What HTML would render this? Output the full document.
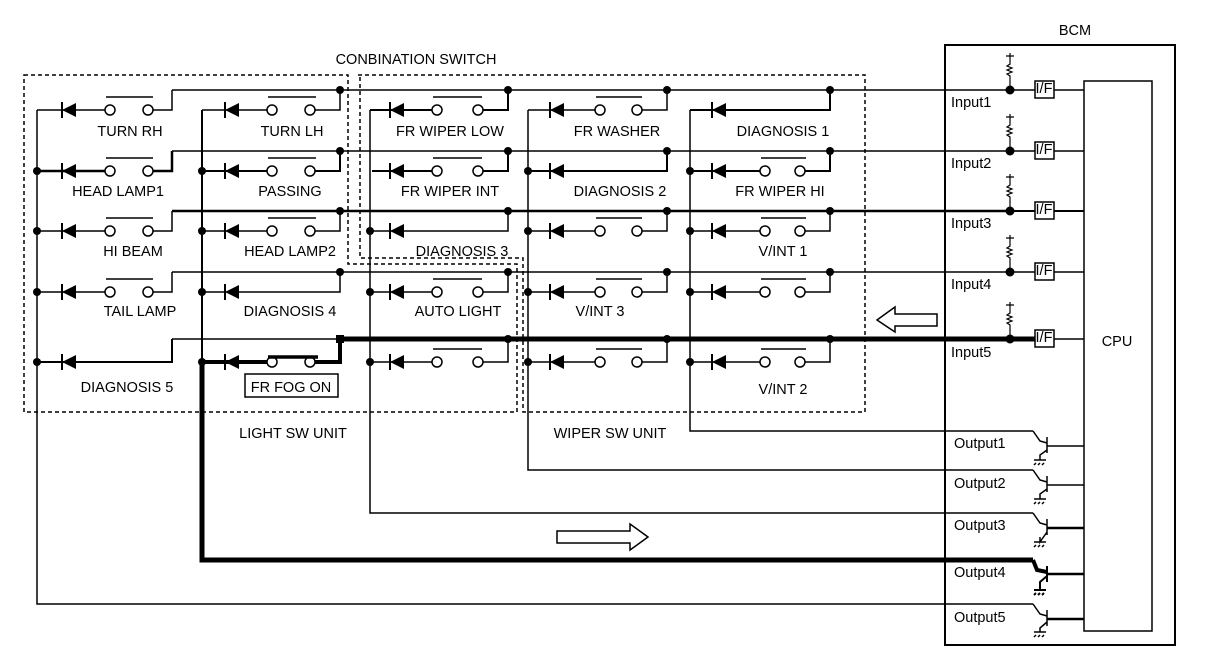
<!DOCTYPE html>
<html><head><meta charset="utf-8"><style>
html,body{margin:0;padding:0;background:#fff;}
svg{display:block;}
text{font-family:"Liberation Sans",sans-serif;font-size:14.5px;fill:#000;}
</style></head><body>
<svg width="1216" height="654" viewBox="0 0 1216 654" xmlns="http://www.w3.org/2000/svg">
<defs>
<g id="dl"><polygon points="0,0 14,-7 14,7" fill="#000"/><line x1="0" y1="-8" x2="0" y2="8" stroke="#000" stroke-width="2"/></g>
</defs>
<g fill="none" stroke="#000" stroke-width="1.5">
<path d="M24 75 H348 V264 H517 V412 H24 Z" stroke-dasharray="4,3"/>
<path d="M358 75 H865 V412 H523 V258 H360 V75" stroke-dasharray="4,3"/>
<line x1="172" y1="90" x2="1010" y2="90"/>
<line x1="172" y1="151" x2="1010" y2="151"/>
<line x1="172" y1="211" x2="1010" y2="211" stroke-width="2.5"/>
<line x1="172" y1="272" x2="1010" y2="272"/>
<line x1="172" y1="339" x2="340" y2="339"/>
<line x1="340" y1="339" x2="1010" y2="339" stroke-width="5"/>
<path d="M37 110 V604 H1033"/>
<path d="M202 110 V362" stroke-width="2"/>
<path d="M202 362 V560 H1033" stroke-width="5"/>
<path d="M370 110 V513 H1033" stroke-width="1.5"/>
<path d="M528 110 V470 H1033"/>
<path d="M690 110 V431 H1033"/>
<path d="M37 110 H105 M153 110 H172 V90"/>
<path d="M37 171 H105 M153 171 H172 V151" stroke-width="2.5"/>
<path d="M37 231 H105 M153 231 H172 V211"/>
<path d="M37 292 H105 M153 292 H172 V272"/>
<path d="M37 362 H172 V339" stroke-width="2"/>
<path d="M202 110 H267 M315 110 H340 V90"/>
<path d="M202 171 H267 M315 171 H340 V151" stroke-width="2"/>
<path d="M202 231 H267 M315 231 H340 V211"/>
<path d="M202 292 H340 V272"/>
<path d="M202 362 H267 M315 362 H340 V339" stroke-width="4"/>
<path d="M370 110 H432 M483 110 H508 V90" stroke-width="2"/>
<path d="M372 171 H432 M483 171 H508 V151" stroke-width="2"/>
<path d="M370 231 H508 V211"/>
<path d="M370 292 H432 M483 292 H508 V272"/>
<path d="M370 362 H432 M483 362 H508 V339"/>
<path d="M528 110 H595 M642 110 H667 V90"/>
<path d="M528 171 H667 V151" stroke-width="2"/>
<path d="M528 231 H595 M642 231 H667 V211"/>
<path d="M528 292 H595 M642 292 H667 V272"/>
<path d="M528 362 H595 M642 362 H667 V339"/>
<path d="M690 110 H830 V90" stroke-width="2"/>
<path d="M690 171 H760 M805 171 H830 V151" stroke-width="2"/>
<path d="M690 231 H760 M805 231 H830 V211"/>
<path d="M690 292 H760 M805 292 H830 V272"/>
<path d="M690 362 H760 M805 362 H830 V339"/>
<g fill="#fff">
<circle cx="110" cy="110" r="5"/><circle cx="148" cy="110" r="5"/>
<circle cx="110" cy="171" r="5"/><circle cx="148" cy="171" r="5"/>
<circle cx="110" cy="231" r="5"/><circle cx="148" cy="231" r="5"/>
<circle cx="110" cy="292" r="5"/><circle cx="148" cy="292" r="5"/>
<circle cx="272" cy="110" r="5"/><circle cx="310" cy="110" r="5"/>
<circle cx="272" cy="171" r="5"/><circle cx="310" cy="171" r="5"/>
<circle cx="272" cy="231" r="5"/><circle cx="310" cy="231" r="5"/>
<circle cx="272" cy="362" r="5"/><circle cx="310" cy="362" r="5"/>
<circle cx="437" cy="110" r="5"/><circle cx="478" cy="110" r="5"/>
<circle cx="437" cy="171" r="5"/><circle cx="478" cy="171" r="5"/>
<circle cx="437" cy="292" r="5"/><circle cx="478" cy="292" r="5"/>
<circle cx="437" cy="362" r="5"/><circle cx="478" cy="362" r="5"/>
<circle cx="600" cy="110" r="5"/><circle cx="637" cy="110" r="5"/>
<circle cx="600" cy="231" r="5"/><circle cx="637" cy="231" r="5"/>
<circle cx="600" cy="292" r="5"/><circle cx="637" cy="292" r="5"/>
<circle cx="600" cy="362" r="5"/><circle cx="637" cy="362" r="5"/>
<circle cx="765" cy="171" r="5"/><circle cx="800" cy="171" r="5"/>
<circle cx="765" cy="231" r="5"/><circle cx="800" cy="231" r="5"/>
<circle cx="765" cy="292" r="5"/><circle cx="800" cy="292" r="5"/>
<circle cx="765" cy="362" r="5"/><circle cx="800" cy="362" r="5"/>
</g>
<path d="M106 97 H153 M106 158 H153 M106 218 H153 M106 279 H153"/>
<path d="M268 97 H316 M268 158 H316 M268 218 H316"/>
<path d="M268 357 H318" stroke-width="3.5"/>
<path d="M433 97 H482 M433 158 H482 M433 279 H482 M433 349 H482"/>
<path d="M596 97 H642 M596 218 H642 M596 279 H642 M596 349 H642"/>
<path d="M761 158 H806 M761 218 H806 M761 279 H806 M761 349 H806"/>
<rect x="245" y="374" width="93" height="23"/>
<rect x="945" y="45" width="230" height="600" stroke-width="2"/>
<rect x="1084" y="81" width="68" height="550"/>
<g>
<rect x="1035" y="81" width="19" height="17"/><path d="M1010 90 H1035 M1054 90 H1084"/>
<rect x="1035" y="142" width="19" height="17"/><path d="M1010 151 H1035 M1054 151 H1084"/>
<rect x="1035" y="202" width="19" height="17"/><path d="M1010 211 H1035 M1054 211 H1084" stroke-width="2"/>
<rect x="1035" y="263" width="19" height="17"/><path d="M1010 272 H1035 M1054 272 H1084"/>
<rect x="1035" y="330" width="19" height="17"/><path d="M1010 339 H1035" stroke-width="5"/><path d="M1054 339 H1084"/>
</g>
<g stroke-width="1.2">
<path d="M1010 53 V60 M1006 56 H1014 M1010 60 V64 l-3 2 l5 2 l-5 2 l5 2 l-5 2 l3 2 V90"/>
<path d="M1010 114 V121 M1006 117 H1014 M1010 121 V125 l-3 2 l5 2 l-5 2 l5 2 l-5 2 l3 2 V151"/>
<path d="M1010 174 V181 M1006 177 H1014 M1010 181 V185 l-3 2 l5 2 l-5 2 l5 2 l-5 2 l3 2 V211"/>
<path d="M1010 235 V242 M1006 238 H1014 M1010 242 V246 l-3 2 l5 2 l-5 2 l5 2 l-5 2 l3 2 V272"/>
<path d="M1010 302 V309 M1006 305 H1014 M1010 309 V313 l-3 2 l5 2 l-5 2 l5 2 l-5 2 l3 2 V339"/>
</g>
<g>
<path d="M1033 431 L1040 441 L1047 443 M1047 437 V453 M1047 446 H1084 M1047 450 L1040 455 V460 M1034 460 H1046 M1036 463 l-2 2 M1040 463 l-2 2 M1044 463 l-2 2"/>
<path d="M1033 470 L1040 480 L1047 482 M1047 476 V492 M1047 485 H1084 M1047 489 L1040 494 V499 M1034 499 H1046 M1036 502 l-2 2 M1040 502 l-2 2 M1044 502 l-2 2"/>
<path d="M1033 513 L1040 523 L1047 525 M1047 519 V535 M1040 537 V542 L1047 532 M1034 542 H1046 M1036 545 l-2 2 M1040 545 l-2 2 M1044 545 l-2 2"/>
<path d="M1047 528 H1084" stroke-width="2.5"/>
<path d="M1033 560 L1037 570 L1047 572" stroke-width="4"/>
<path d="M1047 566 V582 M1047 576 L1040 582 V590 M1034 590 H1046 M1036 593 l-2 2 M1040 593 l-2 2 M1044 593 l-2 2" stroke-width="2"/>
<path d="M1047 574 H1084" stroke-width="2.5"/>
<path d="M1033 604 L1040 614 L1047 616 M1047 610 V626 M1040 632 V628 L1047 622 M1034 632 H1046 M1036 635 l-2 2 M1040 635 l-2 2 M1044 635 l-2 2"/>
<path d="M1047 619 H1084" stroke-width="2.5"/>
</g>
<path d="M877 320 L895 307 V314 H937 V326 H895 V332 Z"/>
<path d="M648 537 L630 524 V531 H557 V543 H630 V550 Z"/>
</g>
<g>
<use href="#dl" x="62" y="110"/><use href="#dl" x="62" y="171"/><use href="#dl" x="62" y="231"/><use href="#dl" x="62" y="292"/><use href="#dl" x="62" y="362"/>
<use href="#dl" x="225" y="110"/><use href="#dl" x="225" y="171"/><use href="#dl" x="225" y="231"/><use href="#dl" x="225" y="292"/><use href="#dl" x="225" y="362"/>
<use href="#dl" x="390" y="110"/><use href="#dl" x="390" y="171"/><use href="#dl" x="390" y="231"/><use href="#dl" x="390" y="292"/><use href="#dl" x="390" y="362"/>
<use href="#dl" x="550" y="110"/><use href="#dl" x="550" y="171"/><use href="#dl" x="550" y="231"/><use href="#dl" x="550" y="292"/><use href="#dl" x="550" y="362"/>
<use href="#dl" x="712" y="110"/><use href="#dl" x="712" y="171"/><use href="#dl" x="712" y="231"/><use href="#dl" x="712" y="292"/><use href="#dl" x="712" y="362"/>
</g>
<g fill="#000">
<circle cx="37" cy="171" r="4"/><circle cx="37" cy="231" r="4"/><circle cx="37" cy="292" r="4"/><circle cx="37" cy="362" r="4"/>
<circle cx="202" cy="171" r="4"/><circle cx="202" cy="231" r="4"/><circle cx="202" cy="292" r="4"/><circle cx="202" cy="362" r="4"/>
<circle cx="370" cy="231" r="4"/><circle cx="370" cy="292" r="4"/><circle cx="370" cy="362" r="4"/>
<circle cx="528" cy="171" r="4"/><circle cx="528" cy="231" r="4"/><circle cx="528" cy="292" r="4"/><circle cx="528" cy="362" r="4"/>
<circle cx="690" cy="171" r="4"/><circle cx="690" cy="231" r="4"/><circle cx="690" cy="292" r="4"/><circle cx="690" cy="362" r="4"/>
<circle cx="340" cy="90" r="4"/><circle cx="340" cy="151" r="4"/><circle cx="340" cy="211" r="4"/><circle cx="340" cy="272" r="4"/><rect x="336" y="335" width="8" height="8"/>
<circle cx="508" cy="90" r="4"/><circle cx="508" cy="151" r="4"/><circle cx="508" cy="211" r="4"/><circle cx="508" cy="272" r="4"/><circle cx="508" cy="339" r="4"/>
<circle cx="667" cy="90" r="4"/><circle cx="667" cy="151" r="4"/><circle cx="667" cy="211" r="4"/><circle cx="667" cy="272" r="4"/><circle cx="667" cy="339" r="4"/>
<circle cx="830" cy="90" r="4"/><circle cx="830" cy="151" r="4"/><circle cx="830" cy="211" r="4"/><circle cx="830" cy="272" r="4"/><circle cx="830" cy="339" r="4"/>
<circle cx="1010" cy="90" r="4.5"/><circle cx="1010" cy="151" r="4.5"/><circle cx="1010" cy="211" r="4.5"/><circle cx="1010" cy="272" r="4.5"/><circle cx="1010" cy="339" r="4.5"/>
</g>
<g text-anchor="middle">
<text x="416" y="64">CONBINATION SWITCH</text>
<text x="130" y="136">TURN RH</text><text x="292" y="136">TURN LH</text><text x="450" y="136">FR WIPER LOW</text><text x="617" y="136">FR WASHER</text><text x="783" y="136">DIAGNOSIS 1</text>
<text x="118" y="196">HEAD LAMP1</text><text x="290" y="196">PASSING</text><text x="450" y="196">FR WIPER INT</text><text x="620" y="196">DIAGNOSIS 2</text><text x="780" y="196">FR WIPER HI</text>
<text x="133" y="256">HI BEAM</text><text x="290" y="256">HEAD LAMP2</text><text x="462" y="256">DIAGNOSIS 3</text><text x="783" y="256">V/INT 1</text>
<text x="140" y="316">TAIL LAMP</text><text x="290" y="316">DIAGNOSIS 4</text><text x="458" y="316">AUTO LIGHT</text><text x="600" y="316">V/INT 3</text>
<text x="127" y="392">DIAGNOSIS 5</text><text x="291" y="392">FR FOG ON</text><text x="783" y="394">V/INT 2</text>
<text x="293" y="438">LIGHT SW UNIT</text><text x="610" y="438">WIPER SW UNIT</text>
<text x="1075" y="35" font-size="13">BCM</text>
<text x="1117" y="346">CPU</text>
</g>
<g font-size="16">
<text x="951" y="107">Input1</text><text x="951" y="168">Input2</text><text x="951" y="228">Input3</text><text x="951" y="289">Input4</text><text x="951" y="357">Input5</text>
<text x="954" y="448">Output1</text><text x="954" y="488">Output2</text><text x="954" y="530">Output3</text><text x="954" y="577">Output4</text><text x="954" y="622">Output5</text>
</g>
<g font-size="7" text-anchor="middle"><text x="1044" y="93">I/F</text><text x="1044" y="154">I/F</text><text x="1044" y="214">I/F</text><text x="1044" y="275">I/F</text><text x="1044" y="342">I/F</text></g>
</svg>
</body></html>
